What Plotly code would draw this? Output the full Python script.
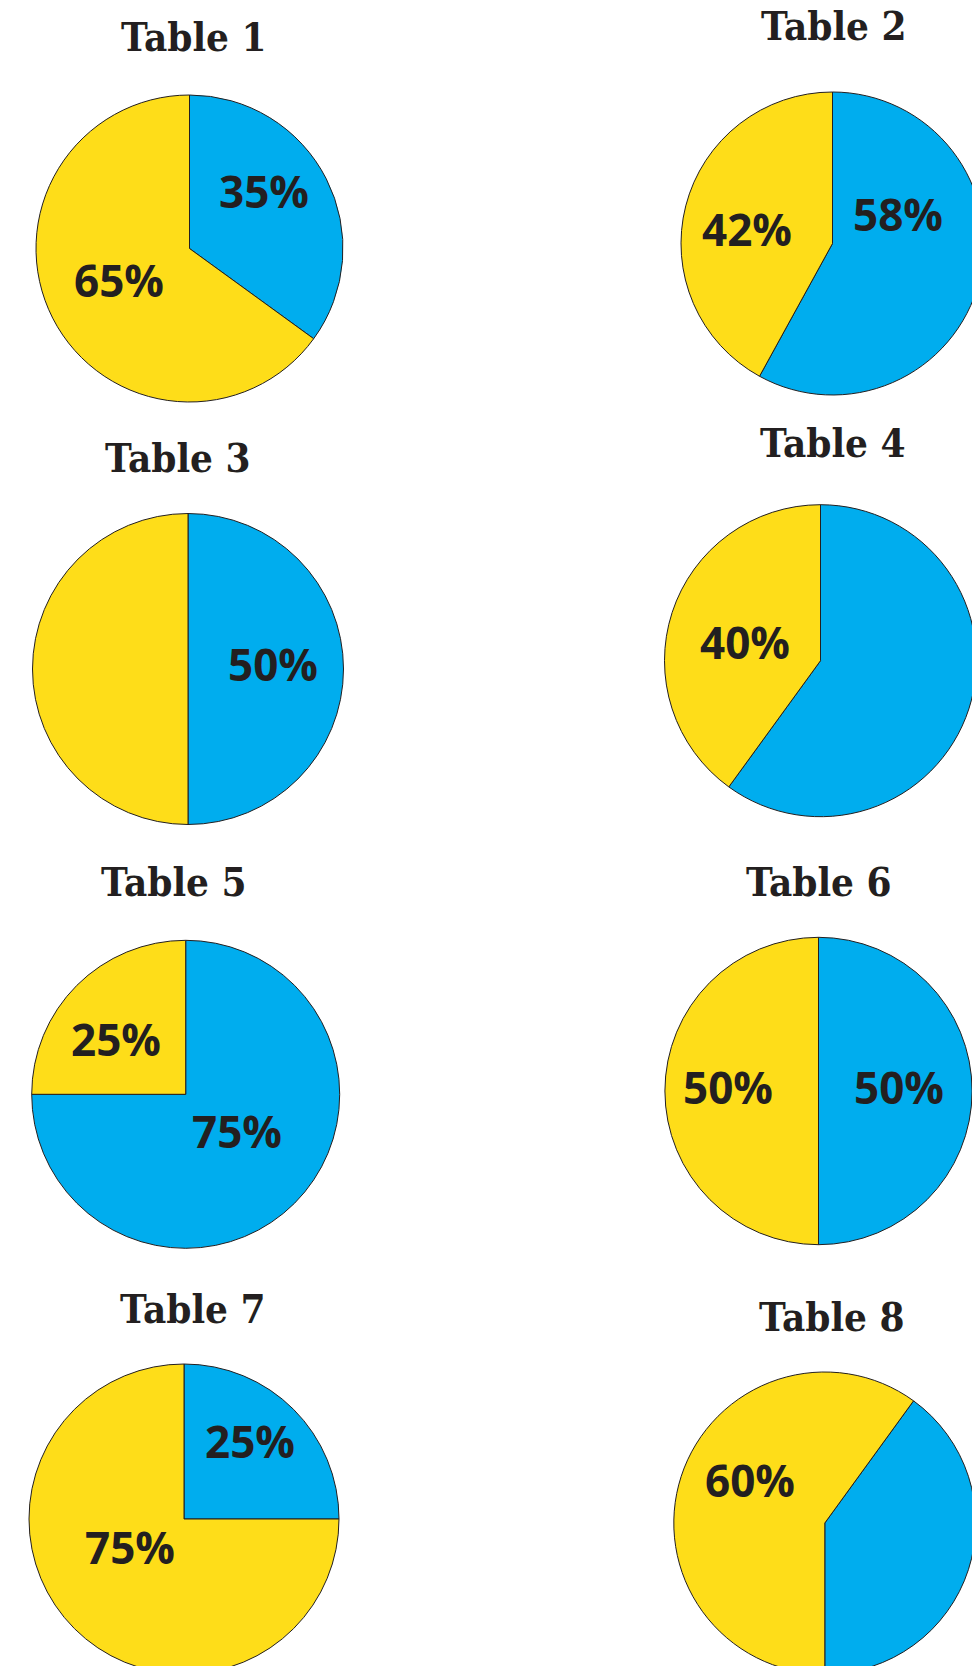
import plotly.graph_objects as go

# ---- data ----
tables = ["Table 1", "Table 2", "Table 3", "Table 4", "Table 5", "Table 6", "Table 7", "Table 8"]
slice_names = ["Blue", "Yellow"]
blue_pct = [35, 58, 50, 60, 75, 50, 25, 40]
yellow_pct = [65, 42, 50, 40, 25, 50, 75, 60]
show_blue_label = [True, True, True, False, True, True, True, False]
show_yellow_label = [True, True, False, True, True, True, True, True]
start_rotation = [0, 0, 0, 0, 0, 0, 0, 36]

# ---- layout (pixels) ----
W, H = 980, 1666
pie_geom = [  # center x, center y, radius
    (181.5, 240.5, 153.5),
    (824.5, 235.5, 151.5),
    (180.0, 661.0, 155.5),
    (812.5, 652.7, 156.0),
    (177.7, 1086.3, 154.0),
    (810.5, 1083.0, 153.7),
    (176.0, 1511.0, 155.0),
    (816.8, 1515.0, 151.0),
]
title_pos = [(186, 28.5), (826, 17.5), (170, 449.5), (825, 435),
             (166, 873), (811, 873), (184.7, 1300), (823.5, 1308)]
blue_label_pos = [(256, 183), (889.5, 206), (264.5, 656.5), None,
                  (228.5, 1122.5), (891, 1079), (241.7, 1433), None]
yellow_label_pos = [(111, 272), (738.5, 221), None, (737, 633.5),
                    (107.5, 1031), (720, 1079), (122.4, 1538.5), (742, 1472)]

BLUE = "#00ADEE"
YELLOW = "#FEDD19"
INK = "#231F20"

fig = go.Figure()
annotations = []


def px(x, y):
    return x / W, 1 - y / H


for i, name in enumerate(tables):
    cx, cy, r = pie_geom[i]
    fig.add_trace(go.Pie(
        labels=slice_names,
        values=[blue_pct[i], yellow_pct[i]],
        sort=False,
        direction="clockwise",
        rotation=start_rotation[i],
        marker=dict(colors=[BLUE, YELLOW], line=dict(color=INK, width=1)),
        textinfo="none",
        hoverinfo="label+percent",
        showlegend=False,
        domain=dict(x=[(cx - r) / W, (cx + r) / W],
                    y=[1 - (cy + r) / H, 1 - (cy - r) / H]),
    ))
    tx, ty = px(*title_pos[i])
    annotations.append(dict(
        x=tx, y=ty, xref="paper", yref="paper", xanchor="center", yanchor="middle",
        text=name, showarrow=False,
        font=dict(family="DejaVu Serif Condensed, DejaVu Serif", size=40, color=INK, weight=700),
    ))
    for show, pos, val in ((show_blue_label[i], blue_label_pos[i], blue_pct[i]),
                           (show_yellow_label[i], yellow_label_pos[i], yellow_pct[i])):
        if show and pos is not None:
            lx, ly = px(*pos)
            annotations.append(dict(
                x=lx, y=ly, xref="paper", yref="paper", xanchor="center", yanchor="middle",
                text=f"{val}%", showarrow=False,
                font=dict(family="Open Sans", size=44, color=INK, weight=700),
            ))

fig.update_layout(
    width=W, height=H,
    margin=dict(l=0, r=0, t=0, b=0),
    paper_bgcolor="white", plot_bgcolor="white",
    annotations=annotations,
)

fig.write_html("out.html")
